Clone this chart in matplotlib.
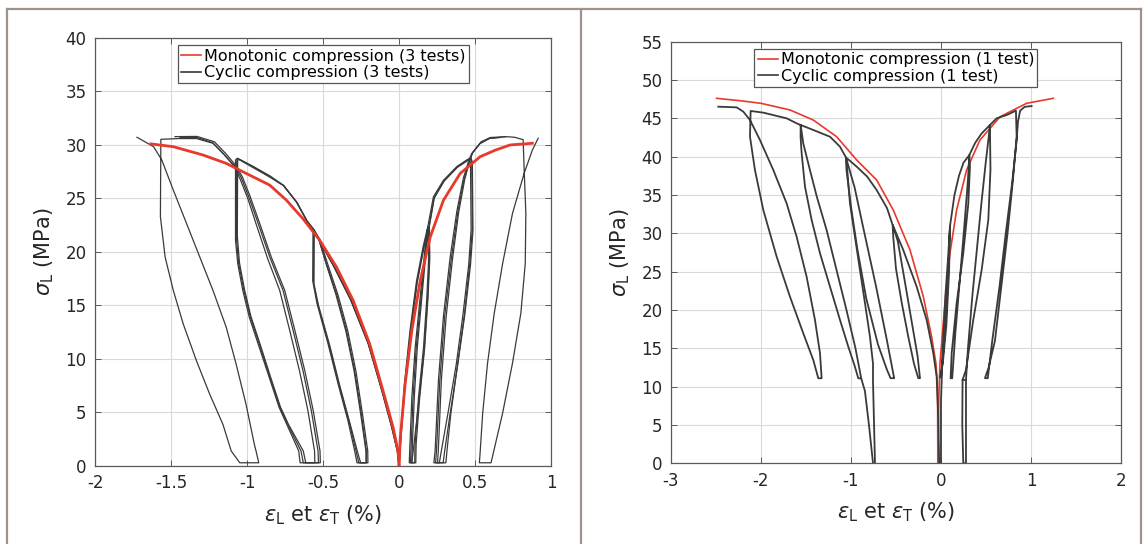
import numpy as np
import matplotlib
matplotlib.use("Agg")
import matplotlib.pyplot as plt
from matplotlib.lines import Line2D

plt.rcParams['font.family'] = ['DejaVu Sans']
plt.rcParams['axes.unicode_minus'] = False
plt.rcParams['mathtext.fontset'] = 'dejavusans'

# ---------------- left panel: 3 tests ----------------
mono3_T_x = [0.0, -0.007, -0.039, -0.105, -0.193, -0.303, -0.412, -0.522, -0.632, -0.741, -0.851, -0.95, -1.028, -1.137, -1.289, -1.485, -1.633]
mono3_T_y = [0.0, 1.4, 3.6, 7.0, 11.4, 15.5, 18.6, 21.1, 23.1, 24.84, 26.25, 26.95, 27.5, 28.28, 29.06, 29.84, 30.1]
mono3_L_x = [0.0, 0.008, 0.04, 0.084, 0.139, 0.205, 0.292, 0.402, 0.533, 0.63, 0.73, 0.877]
mono3_L_y = [0.0, 2.66, 7.66, 12.66, 17.3, 21.4, 24.84, 27.34, 28.9, 29.5, 30.0, 30.16]

# test A, transverse side
cycA_T_x = [0, -0.01, -0.045, -0.11, -0.2, -0.315, -0.425, -0.52, -0.566,
            -0.568, -0.54, -0.467, -0.401, -0.336, -0.292, -0.277,
            -0.215, -0.215, -0.248, -0.292, -0.346, -0.412, -0.478, -0.533, -0.566,
            -0.61, -0.675, -0.763, -0.851, -0.963, -1.065,
            -1.076, -1.076, -1.061, -1.028, -0.985, -0.92, -0.854, -0.789, -0.739, -0.66, -0.651,
            -0.53, -0.533, -0.577, -0.632, -0.697, -0.763, -0.85, -0.93, -0.99, -1.04, -1.08, -1.148, -1.224, -1.333, -1.45, -1.567,
            -1.57, -1.539, -1.485, -1.42, -1.333, -1.246, -1.159, -1.104, -1.048,
            -0.923, -0.941, -0.952, -1.007, -1.072, -1.137, -1.224, -1.311, -1.398, -1.485, -1.561, -1.615, -1.724]
cycA_T_y = [0, 1.4, 3.6, 7.0, 11.4, 15.5, 18.6, 21.0, 22.2,
            17.3, 15.2, 11.4, 7.66, 4.22, 1.4, 0.3,
            0.3, 1.4, 4.84, 8.9, 12.66, 16.1, 18.9, 21.4, 22.2,
            22.97, 24.69, 26.25, 27.03, 27.97, 28.76,
            28.6, 21.1, 18.9, 16.4, 13.9, 11.1, 8.28, 5.47, 3.9, 1.4, 0.3,
            0.3, 1.4, 5.16, 8.9, 12.66, 16.4, 19.5, 22.8, 25.2, 27.0, 28.0, 29.06, 30.16, 30.6, 30.6, 30.53,
            23.3, 19.53, 16.4, 13.28, 9.84, 6.72, 3.9, 1.4, 0.3,
            0.3, 1.4, 2.03, 5.78, 9.53, 12.97, 16.4, 19.53, 22.66, 25.78, 28.6, 29.84, 30.72]

# test B, transverse side
cycB_T_x = [0, -0.012, -0.05, -0.115, -0.205, -0.32, -0.43, -0.525, -0.558,
            -0.56, -0.53, -0.455, -0.39, -0.325, -0.275, -0.253,
            -0.205, -0.206, -0.24, -0.283, -0.337, -0.402, -0.468, -0.522, -0.558,
            -0.605, -0.67, -0.758, -0.848, -0.96, -1.055,
            -1.062, -1.064, -1.05, -1.017, -0.975, -0.91, -0.845, -0.78, -0.728, -0.63, -0.614,
            -0.518, -0.52, -0.565, -0.62, -0.686, -0.752, -0.84, -0.92, -0.98, -1.03, -1.075, -1.14, -1.215, -1.33, -1.474]
cycB_T_y = [0, 1.4, 3.7, 7.1, 11.5, 15.6, 18.7, 21.1, 22.0,
            17.0, 15.0, 11.2, 7.5, 4.1, 1.4, 0.3,
            0.3, 1.4, 4.8, 8.8, 12.6, 16.0, 18.8, 21.2, 22.0,
            22.9, 24.6, 26.2, 27.1, 28.0, 28.7,
            28.5, 21.5, 19.0, 16.5, 14.0, 11.2, 8.3, 5.5, 3.9, 1.4, 0.3,
            0.3, 1.4, 5.2, 8.9, 12.7, 16.4, 19.5, 22.8, 25.2, 27.0, 28.1, 29.2, 30.3, 30.8, 30.78]

# test C, transverse side
cycC_T_x = [0, -0.011, -0.048, -0.112, -0.202, -0.318, -0.428, -0.522, -0.562,
            -0.563, -0.535, -0.46, -0.395, -0.33, -0.283, -0.265,
            -0.217, -0.218, -0.252, -0.296, -0.35, -0.415, -0.48, -0.53, -0.562,
            -0.607, -0.672, -0.76, -0.85, -0.962, -1.06,
            -1.068, -1.07, -1.056, -1.022, -0.98, -0.915, -0.85, -0.785, -0.733, -0.645, -0.63,
            -0.554, -0.556, -0.6, -0.655, -0.72, -0.785, -0.865, -0.94, -0.995, -1.045, -1.085, -1.15, -1.225, -1.33, -1.44]
cycC_T_y = [0, 1.4, 3.6, 7.0, 11.4, 15.5, 18.6, 21.0, 22.1,
            17.2, 15.1, 11.3, 7.6, 4.2, 1.4, 0.3,
            0.3, 1.4, 4.8, 8.9, 12.6, 16.0, 18.9, 21.3, 22.1,
            22.9, 24.6, 26.2, 27.0, 27.9, 28.7,
            28.5, 21.3, 19.0, 16.5, 14.0, 11.2, 8.3, 5.5, 3.9, 1.4, 0.3,
            0.3, 1.4, 5.2, 8.9, 12.7, 16.4, 19.4, 22.6, 25.0, 26.8, 28.0, 29.1, 30.2, 30.7, 30.7]

# test A, longitudinal side
cycA_L_x = [0, 0.01, 0.035, 0.072, 0.115, 0.16, 0.189,
            0.193, 0.195, 0.183, 0.161, 0.128, 0.105, 0.103,
            0.067, 0.07, 0.084, 0.106, 0.139, 0.172, 0.189,
            0.226, 0.292, 0.38, 0.445, 0.467,
            0.478, 0.482, 0.465, 0.43, 0.385, 0.34, 0.315, 0.308,
            0.229, 0.237, 0.259, 0.292, 0.336, 0.38, 0.423, 0.46, 0.478, 0.533, 0.598, 0.703, 0.76, 0.816,
            0.823, 0.834, 0.83, 0.801, 0.746, 0.681, 0.605,
            0.528, 0.532, 0.55, 0.582, 0.626, 0.681, 0.746, 0.823, 0.877, 0.915]
cycA_L_y = [0, 2.66, 7.66, 12.66, 17.3, 20.6, 22.36,
            22.2, 19.5, 15.8, 11.1, 6.4, 2.0, 0.3,
            0.3, 1.4, 6.4, 11.1, 15.8, 20.5, 22.36,
            25.16, 26.7, 27.97, 28.6, 28.75,
            28.4, 22.2, 18.9, 14.2, 9.5, 4.84, 1.4, 0.3,
            0.3, 1.4, 8.0, 14.0, 19.5, 23.8, 26.9, 28.6, 29.2, 30.16, 30.62, 30.78, 30.72, 30.5,
            27.66, 23.6, 18.9, 14.27, 9.6, 4.93, 0.3,
            0.3, 1.0, 4.93, 9.6, 14.27, 18.9, 23.6, 27.36, 29.53, 30.63]

# test B, longitudinal side
cycB_L_x = [0, 0.012, 0.04, 0.078, 0.12, 0.165, 0.198,
            0.2, 0.202, 0.19, 0.168, 0.135, 0.112, 0.11,
            0.084, 0.086, 0.1, 0.12, 0.15, 0.18, 0.198,
            0.232, 0.298, 0.385, 0.45, 0.472,
            0.482, 0.486, 0.47, 0.432, 0.385, 0.335, 0.3, 0.29,
            0.253, 0.258, 0.278, 0.31, 0.352, 0.392, 0.432, 0.466, 0.485, 0.54, 0.6, 0.7]
cycB_L_y = [0, 2.6, 7.6, 12.6, 17.2, 20.5, 22.3,
            22.1, 19.4, 15.7, 11.0, 6.3, 2.0, 0.3,
            0.3, 1.4, 6.4, 11.1, 15.8, 20.4, 22.3,
            25.1, 26.7, 28.0, 28.6, 28.8,
            28.4, 22.0, 18.8, 14.1, 9.4, 4.8, 1.4, 0.3,
            0.3, 1.4, 8.0, 14.0, 19.4, 23.7, 26.8, 28.6, 29.3, 30.3, 30.7, 30.77]

# test C, longitudinal side
cycC_L_x = [0, 0.011, 0.038, 0.075, 0.118, 0.162, 0.195,
            0.197, 0.199, 0.188, 0.166, 0.132, 0.098, 0.084,
            0.075, 0.078, 0.092, 0.113, 0.145, 0.176, 0.195,
            0.23, 0.295, 0.383, 0.447, 0.46,
            0.47, 0.474, 0.458, 0.42, 0.375, 0.32, 0.278, 0.265,
            0.24, 0.246, 0.268, 0.3, 0.344, 0.386, 0.428, 0.462, 0.48, 0.53, 0.59, 0.665]
cycC_L_y = [0, 2.6, 7.6, 12.6, 17.2, 20.5, 22.2,
            22.0, 19.3, 15.7, 11.0, 6.3, 2.0, 0.3,
            0.3, 1.4, 6.4, 11.1, 15.8, 20.4, 22.2,
            25.0, 26.6, 27.9, 28.5, 28.7,
            28.3, 22.1, 18.8, 14.1, 9.4, 4.8, 1.4, 0.3,
            0.3, 1.4, 8.0, 14.0, 19.4, 23.7, 26.8, 28.5, 29.2, 30.1, 30.6, 30.7]

# ---------------- right panel: 1 test ----------------
mono1_T_x = [-0.035, -0.037, -0.041, -0.056, -0.104, -0.196, -0.344, -0.53, -0.715, -0.937, -1.159, -1.419, -1.678, -2.0, -2.233, -2.493]
mono1_T_y = [0.0, 7.83, 10.43, 13.04, 16.52, 21.74, 27.83, 33.04, 36.96, 39.57, 42.6, 44.78, 46.09, 46.96, 47.3, 47.61]
mono1_L_x = [-0.035, -0.025, -0.011, 0.044, 0.1, 0.174, 0.285, 0.433, 0.656, 0.952, 1.248]
mono1_L_y = [0.0, 8.0, 13.04, 20.87, 27.4, 33.04, 38.26, 42.17, 45.2, 46.96, 47.61]

cyc1_T_x = [-0.02, -0.03, -0.048, -0.085, -0.159, -0.27, -0.419, -0.537,
            -0.53, -0.5, -0.437, -0.363, -0.3, -0.252,
            -0.233, -0.26, -0.33, -0.41, -0.48, -0.537,
            -0.6, -0.715, -0.82, -0.937, -1.056,
            -1.05, -1.0, -0.93, -0.83, -0.7, -0.6, -0.56,
            -0.52, -0.6, -0.72, -0.85, -0.96, -1.056,
            -1.122, -1.233, -1.419, -1.559,
            -1.56, -1.548, -1.511, -1.437, -1.344, -1.233, -1.122, -1.03, -0.956, -0.919,
            -0.886, -0.95, -1.05, -1.16, -1.27, -1.38, -1.456, -1.53, -1.559,
            -1.604, -1.715, -1.974, -2.115,
            -2.122, -2.067, -1.974, -1.826, -1.678, -1.53, -1.419, -1.363,
            -1.326, -1.344, -1.4, -1.493, -1.604, -1.715, -1.863, -2.011, -2.122, -2.196, -2.27, -2.474]
cyc1_T_y = [0.0, 6.0, 11.3, 14.35, 18.7, 23.04, 27.83, 31.1,
            29.5, 25.4, 21.0, 16.5, 13.0, 11.1,
            11.1, 14.0, 18.8, 24.3, 29.0, 31.1,
            33.3, 35.65, 37.4, 38.7, 39.9,
            38.3, 33.5, 28.0, 21.5, 15.5, 12.2, 11.1,
            11.1, 16.0, 23.0, 30.0, 36.0, 39.9,
            41.3, 42.6, 43.48, 44.13,
            42.6, 40.43, 36.09, 31.74, 27.39, 23.04, 18.7, 15.22, 12.6, 11.09,
            11.07, 15.0, 20.0, 25.2, 30.4, 34.8, 38.26, 41.74, 44.13,
            44.35, 45.0, 45.74, 45.96,
            42.6, 38.26, 33.04, 26.96, 21.74, 16.96, 13.48, 11.09,
            11.09, 14.35, 18.7, 24.35, 29.57, 33.91, 38.26, 42.17, 44.78, 45.87, 46.43, 46.52]
# full unloading excursion
cyc1_Z_x = [-1.05, -1.011, -0.956, -0.9, -0.844, -0.789, -0.755, -0.755, -0.733]
cyc1_Z_y = [39.5, 33.91, 29.57, 25.2, 20.87, 16.52, 13.0, 10.6, 0.0]
cyc1_Z2_x = [-0.755, -0.8, -0.845, -0.886]
cyc1_Z2_y = [0.0, 5.0, 9.43, 11.07]

cyc1_L_x = [0.0, 0.0, 0.02, 0.05, 0.08, 0.1,
            0.09, 0.06, 0.02, -0.011,
            0.0, 0.03, 0.06, 0.085, 0.1,
            0.15, 0.2, 0.25, 0.315,
            0.322, 0.304, 0.248, 0.174, 0.119, 0.107,
            0.125, 0.16, 0.21, 0.26, 0.3, 0.315,
            0.38, 0.45, 0.544,
            0.55, 0.526, 0.452, 0.359, 0.278, 0.24,
            0.278, 0.3, 0.35, 0.4, 0.45, 0.5, 0.53, 0.544,
            0.619, 0.73, 0.833,
            0.841, 0.8, 0.74, 0.67, 0.6, 0.53, 0.489,
            0.52, 0.57, 0.65, 0.72, 0.79, 0.84, 0.855, 0.88, 0.93, 1.007]
cyc1_L_y = [0.0, 8.0, 15.0, 22.0, 27.0, 30.9,
            25.0, 18.0, 13.0, 11.2,
            11.2, 15.0, 20.0, 26.0, 30.9,
            35.0, 37.5, 39.2, 40.2,
            38.7, 33.9, 27.4, 20.87, 14.35, 11.09,
            11.09, 17.0, 24.0, 31.0, 37.0, 40.2,
            41.8, 43.0, 44.13,
            38.3, 31.74, 25.22, 18.7, 12.17, 10.87,
            10.87, 15.0, 22.0, 28.0, 34.0, 39.5, 42.5, 44.13,
            45.0, 45.43, 46.0,
            42.6, 37.0, 30.0, 23.0, 16.0, 12.5, 11.1,
            11.1, 16.0, 23.0, 30.0, 36.5, 42.0, 44.5, 46.0, 46.5, 46.6]
cyc1_LZ_x = [0.24, 0.237, 0.248, 0.278, 0.278]
cyc1_LZ_y = [10.87, 5.0, 0.0, 0.0, 10.87]

red = '#e8392b'
dark = '#3a3a3a'
spine = '#5a5a5a'

fig = plt.figure(figsize=(11.45, 5.44), dpi=100)
ax1 = fig.add_axes([0.0830, 0.1434, 0.3983, 0.7868])
ax2 = fig.add_axes([0.5860, 0.1484, 0.3930, 0.7750])


def style(ax, xt, yt, ntest):
    ax.set_xticks(xt)
    ax.set_xticklabels(['%g' % v for v in xt])
    ax.set_yticks(yt)
    ax.set_xlim(xt[0], xt[-1])
    ax.set_ylim(yt[0], yt[-1])
    ax.grid(True, color='#d9d9d9', lw=0.8)
    ax.set_axisbelow(True)
    for s in ax.spines.values():
        s.set_color(spine)
        s.set_linewidth(0.9)
    ax.tick_params(direction='in', length=4, width=0.7, colors=spine, pad=6,
                   labelcolor='#262626', labelsize=12, top=True, right=True)
    ax.set_xlabel(r'$\epsilon_{\rm L}$ et $\epsilon_{\rm T}$ (%)', fontsize=15, color='#262626', labelpad=8)
    ax.set_ylabel(r'$\sigma_{\rm L}$ (MPa)', fontsize=15, color='#262626', labelpad=7)
    lab = '1 test' if ntest == 1 else '%d tests' % ntest
    h = [Line2D([], [], color=red, lw=1.2), Line2D([], [], color=dark, lw=1.2)]
    leg = ax.legend(h, ['Monotonic compression (%s)' % lab, 'Cyclic compression (%s)' % lab],
                    loc='upper center', bbox_to_anchor=(0.5, 0.99), fontsize=11.5,
                    fancybox=False, framealpha=1, edgecolor='#555555', handlelength=1.3,
                    handletextpad=0.15, borderpad=0.2, labelspacing=0.1, borderaxespad=0.2)
    leg.get_frame().set_linewidth(0.9)


# left
for xs, ys in [(cycA_T_x, cycA_T_y), (cycB_T_x, cycB_T_y), (cycC_T_x, cycC_T_y),
               (cycA_L_x, cycA_L_y), (cycB_L_x, cycB_L_y), (cycC_L_x, cycC_L_y)]:
    ax1.plot(xs, ys, color=dark, lw=0.9)
ax1.plot(mono3_T_x, mono3_T_y, color=red, lw=2.0)
ax1.plot(mono3_L_x, mono3_L_y, color=red, lw=2.0)
style(ax1, [-2, -1.5, -1, -0.5, 0, 0.5, 1], np.arange(0, 41, 5), 3)

# right
ax2.plot(mono1_T_x, mono1_T_y, color=red, lw=1.2)
ax2.plot(mono1_L_x, mono1_L_y, color=red, lw=1.2)
for xs, ys in [(cyc1_T_x, cyc1_T_y), (cyc1_Z_x, cyc1_Z_y), (cyc1_Z2_x, cyc1_Z2_y),
               (cyc1_L_x, cyc1_L_y), (cyc1_LZ_x, cyc1_LZ_y)]:
    ax2.plot(xs, ys, color=dark, lw=1.3)
style(ax2, [-3, -2, -1, 0, 1, 2], np.arange(0, 56, 5), 1)

# table-like frame around the two panels
bc = '#a09189'
W, H = 1145.0, 544.0
for (x0, y0, x1, y1) in [(7, 9, 1141, 9), (7, 9, 7, 544), (581, 9, 581, 544), (1141, 9, 1141, 544)]:
    fig.add_artist(Line2D([x0 / W, x1 / W], [1 - y0 / H, 1 - y1 / H], color=bc, lw=1.6))

fig.savefig('out.png', dpi=100)
